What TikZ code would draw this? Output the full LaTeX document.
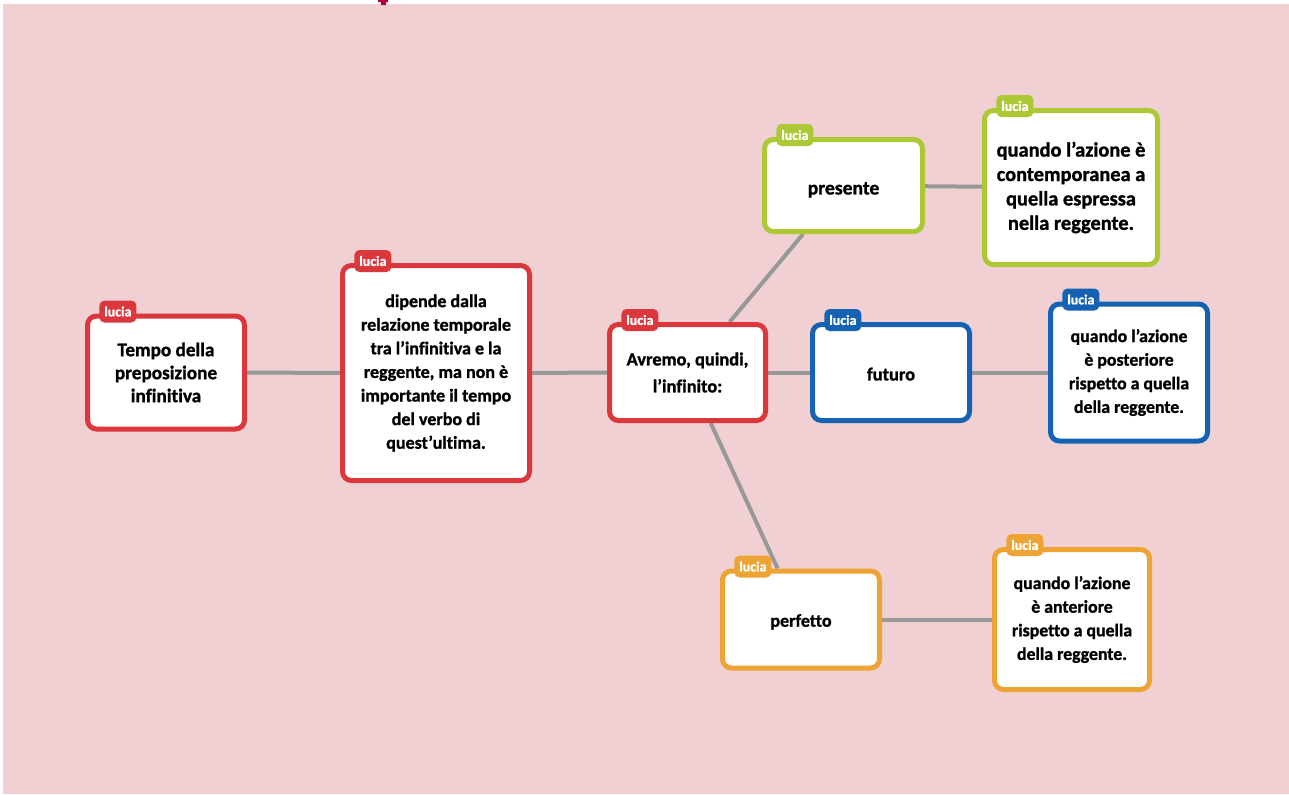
\documentclass[tikz,border=0pt]{standalone}
\usepackage{fontspec}
\setmainfont{Carlito}[Ligatures=NoCommon, BoldFeatures={FakeBold=1.2}]
\usetikzlibrary{positioning, backgrounds}
\definecolor{rosa}{RGB}{240,208,211}
\definecolor{rot}{RGB}{219,56,61}
\definecolor{gruen}{RGB}{172,200,52}
\definecolor{blau}{RGB}{22,98,178}
\definecolor{gelb}{RGB}{238,164,52}
\definecolor{grau}{RGB}{152,152,152}
\definecolor{titel}{RGB}{176,0,64}
\tikzset{karte/.style={rectangle,draw,fill=white,line width=2.5pt,rounded corners=4.5pt,
		align=center,inner sep=2pt},
	schrift/.style 2 args={font=\bfseries\fontsize{#1}{#2}\selectfont},
	tief/.style={execute at begin node={\rule{0pt}{#1}}},
	reiter/.style={rectangle,rounded corners=2.5pt,text=white,minimum width=18.5pt,
		minimum height=11pt,inner sep=0pt,anchor=west,font=\bfseries\fontsize{7}{7}\selectfont},
	ast/.style={draw=grau,line width=2pt} }

\begin{document}
\begin{tikzpicture}[x=0.5pt,y=-0.5pt]
	\useasboundingbox (0,0) rectangle (1289,794);

	\node (t) [karte, draw=rot, schrift={9.6}{11.5}, tief=9.3pt, minimum width=78.5pt, minimum height=56.5pt]
		at (166,372.5) {Tempo della\\ preposizione\\ infinitiva};
	\node (d) [karte, draw=rot, schrift={9}{11.8}, tief=14.4pt, minimum width=93.5pt, minimum height=107.5pt]
		at (436,373) {dipende dalla\\ relazione temporale\\ tra l’infinitiva e la\\ reggente, ma non è\\ importante il tempo\\ del verbo di\\ quest’ultima.};
	\node (a) [karte, draw=rot, schrift={9.2}{13.5}, tief=14pt, minimum width=78pt, minimum height=48pt]
		at (687.5,372.5) {Avremo, quindi,\\ l’infinito:};
	\node (pr) [karte, draw=gruen, schrift={9.8}{12}, tief=10.5pt, minimum width=79pt, minimum height=46pt]
		at (843.5,185.5) {presente};
	\node (fu) [karte, draw=blau, schrift={9.2}{12}, tief=8pt, minimum width=78.5pt, minimum height=48pt]
		at (891,372.5) {futuro};
	\node (pe) [karte, draw=gelb, schrift={9}{12}, tief=8.6pt, minimum width=78.5pt, minimum height=48.5pt]
		at (801,619.5) {perfetto};
	\node (c1) [karte, draw=gruen, schrift={10.2}{12.2}, tief=12.4pt, minimum width=86.5pt, minimum height=77pt]
		at (1071,187.5) {quando l’azione è\\ contemporanea a\\ quella espressa\\ nella reggente.};
	\node (c2) [karte, draw=blau, schrift={8.9}{11.8}, tief=7.3pt, minimum width=78.5pt, minimum height=68.5pt]
		at (1129,372.5) {quando l’azione\\ è posteriore\\ rispetto a quella\\ della reggente.};
	\node (c3) [karte, draw=gelb, schrift={8.9}{11.8}, tief=8.8pt, minimum width=77.5pt, minimum height=70pt]
		at (1072,619.5) {quando l’azione\\ è anteriore\\ rispetto a quella\\ della reggente.};

	\foreach \k/\f in {t/rot, d/rot, a/rot, pr/gruen, fu/blau, pe/gelb, c1/gruen, c2/blau, c3/gelb}
		\node (r\k) [reiter, fill=\f] at ([xshift=7pt, yshift=1pt]\k.north west) {lucia};

	\begin{scope}[on background layer]
		\fill[white] (0,0) rectangle (1289,794);
		\fill[rosa] (3,4) rectangle (1289,794);
		\fill[titel] (378,0) rectangle (388,2) (381,2) rectangle (386,5);
		\draw[ast] (t) -- (d);
		\draw[ast] (d) -- (a);
		\draw[ast] (a) -- (fu);
		\draw[ast] (fu) -- (c2);
		\draw[ast] (a) -- (pr);
		\draw[ast] (a) -- (pe);
		\draw[ast] (pr) -- (c1);
		\draw[ast] (pe) -- (c3);
	\end{scope}
\end{tikzpicture}
\end{document}
